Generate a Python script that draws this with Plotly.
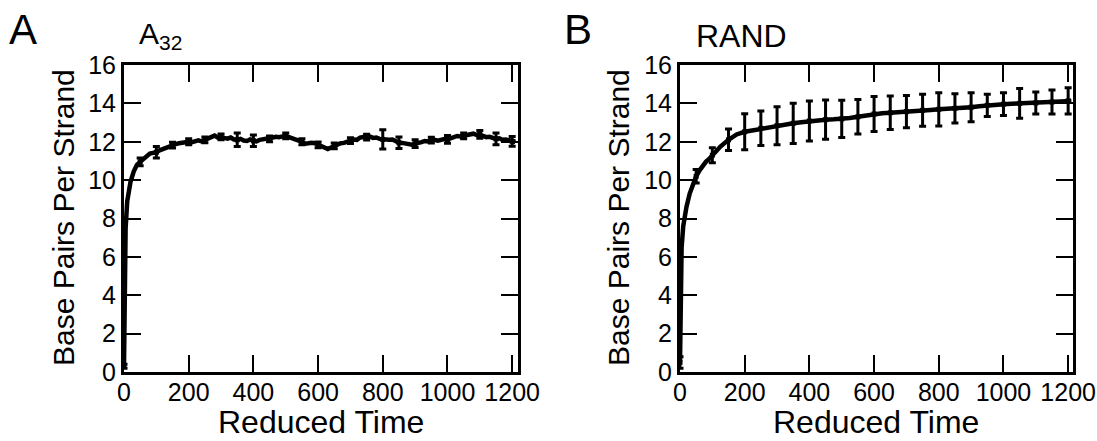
import plotly.graph_objects as go

# ---------------- data ----------------
A_time = [0, 2, 5, 10, 15, 20, 30, 40, 50, 60, 70, 80, 90, 100,
          110, 120, 130, 140, 150, 160, 170, 180, 190, 200,
          210, 220, 230, 240, 250, 260, 270, 280, 290, 300,
          310, 320, 330, 340, 350, 360, 370, 380, 390, 400,
          410, 420, 430, 440, 450, 460, 470, 480, 490, 500,
          510, 520, 530, 540, 550, 560, 570, 580, 590, 600,
          610, 620, 630, 640, 650, 660, 670, 680, 690, 700,
          710, 720, 730, 740, 750, 760, 770, 780, 790, 800,
          810, 820, 830, 840, 850, 860, 870, 880, 890, 900,
          910, 920, 930, 940, 950, 960, 970, 980, 990, 1000,
          1010, 1020, 1030, 1040, 1050, 1060, 1070, 1080, 1090, 1100,
          1110, 1120, 1130, 1140, 1150, 1160, 1170, 1180, 1190, 1200, 1210]
A_bp = [0.3, 5.0, 7.5, 8.9, 9.5, 9.9, 10.45, 10.8, 10.95, 11.1, 11.25, 11.38, 11.42, 11.45,
        11.55, 11.62, 11.72, 11.8, 11.83, 11.88, 11.92, 11.95, 12.0, 12.0,
        11.98, 12.04, 12.07, 12.02, 12.1, 12.15, 12.28, 12.32, 12.22, 12.25,
        12.2, 12.16, 12.22, 12.12, 12.1, 12.15, 12.06, 12.04, 12.12, 12.05,
        12.02, 12.1, 12.12, 12.18, 12.15, 12.22, 12.26, 12.24, 12.28, 12.3,
        12.24, 12.2, 12.14, 12.06, 12.0, 11.9, 11.92, 11.95, 11.92, 11.84,
        11.76, 11.7, 11.62, 11.7, 11.78, 11.86, 11.92, 11.94, 12.0, 12.06,
        12.12, 12.1, 12.22, 12.25, 12.24, 12.27, 12.2, 12.22, 12.15, 12.12,
        12.14, 12.1, 12.12, 12.04, 11.95, 11.94, 11.9, 11.88, 11.85, 11.9,
        11.92, 11.98, 12.04, 12.02, 12.08, 12.1, 12.06, 12.12, 12.14, 12.12,
        12.18, 12.24, 12.3, 12.28, 12.3, 12.34, 12.38, 12.42, 12.36, 12.38,
        12.3, 12.24, 12.26, 12.2, 12.15, 12.18, 12.1, 12.12, 12.06, 12.02, 12.0]

A_bar_time = [0, 50, 100, 150, 200, 250, 300, 350, 400, 450, 500, 550, 600,
              650, 700, 750, 800, 850, 900, 950, 1000, 1050, 1100, 1150, 1200]
A_bar_err = [0.1, 0.2, 0.3, 0.15, 0.15, 0.15, 0.15, 0.35, 0.3, 0.15, 0.15, 0.15, 0.15,
             0.15, 0.15, 0.15, 0.5, 0.3, 0.2, 0.15, 0.2, 0.15, 0.2, 0.3, 0.25]

B_time = [0, 2, 5, 10, 15, 20, 30, 40, 50, 60, 70, 80, 90, 100,
          125, 150, 175, 200, 225, 250, 275, 300, 325, 350, 375, 400,
          425, 450, 475, 500, 525, 550, 575, 600, 625, 650, 675, 700,
          725, 750, 775, 800, 825, 850, 875, 900, 925, 950, 975, 1000,
          1025, 1050, 1075, 1100, 1125, 1150, 1175, 1200, 1210]
B_bp = [0.5, 4.5, 6.5, 7.6, 8.2, 8.6, 9.3, 9.8, 10.2, 10.5, 10.75, 10.95, 11.1, 11.3,
        11.75, 12.1, 12.38, 12.52, 12.6, 12.7, 12.76, 12.84, 12.9, 12.96, 13.02, 13.08,
        13.12, 13.15, 13.17, 13.19, 13.24, 13.3, 13.38, 13.45, 13.49, 13.51, 13.55, 13.57,
        13.6, 13.64, 13.66, 13.69, 13.71, 13.74, 13.77, 13.8, 13.85, 13.9, 13.93, 13.96,
        13.98, 14.0, 14.01, 14.02, 14.05, 14.07, 14.1, 14.13, 14.12]

B_bar_time = [0, 50, 100, 150, 200, 250, 300, 350, 400, 450, 500, 550, 600,
              650, 700, 750, 800, 850, 900, 950, 1000, 1050, 1100, 1150, 1200]
B_bar_err = [0.3, 0.35, 0.39, 0.56, 0.94, 0.9, 0.99, 1.05, 1.04, 1.02, 0.97, 0.9, 0.91,
             0.87, 0.84, 0.83, 0.87, 0.76, 0.76, 0.58, 0.59, 0.77, 0.57, 0.63, 0.69]

x_ticks = [0, 200, 400, 600, 800, 1000, 1200]
y_ticks = [0, 2, 4, 6, 8, 10, 12, 14, 16]

A_bar_bp = [A_bp[A_time.index(t)] for t in A_bar_time]
B_bar_bp = [B_bp[B_time.index(t)] for t in B_bar_time]

# ---------------- figure ----------------
W, H = 1097, 441
FONT = "Liberation Sans, Arial, Helvetica, sans-serif"

fig = go.Figure()

def add_panel(t, v, bt, bv, be, xa, ya):
    fig.add_trace(go.Scatter(x=t, y=v, mode="lines", xaxis=xa, yaxis=ya,
                             line=dict(color="black", width=4.5),
                             showlegend=False, hoverinfo="skip"))
    fig.add_trace(go.Scatter(x=bt, y=bv, mode="markers", xaxis=xa, yaxis=ya,
                             marker=dict(symbol="square", size=5, color="black"),
                             error_y=dict(type="data", array=be, visible=True,
                                          color="black", thickness=3, width=3.5),
                             showlegend=False, hoverinfo="skip"))

add_panel(A_time, A_bp, A_bar_time, A_bar_bp, A_bar_err, "x", "y")
add_panel(B_time, B_bp, B_bar_time, B_bar_bp, B_bar_err, "x2", "y2")

def px_x(p):
    return p / W

def px_y(p):
    return 1 - p / H

ydom = [px_y(372), px_y(65)]
axis_common = dict(showgrid=False, zeroline=False, showline=True, linewidth=3,
                   linecolor="black", mirror="ticks", ticks="inside", ticklen=17,
                   tickwidth=2, tickcolor="black", automargin=False,
                   tickfont=dict(family=FONT, size=25, color="black"))

fig.update_layout(
    template="none",
    width=W, height=H,
    margin=dict(l=0, r=0, t=0, b=0, pad=0),
    paper_bgcolor="white", plot_bgcolor="white",
    showlegend=False,
    xaxis=dict(domain=[px_x(124), px_x(518)], range=[0, 1218], anchor="y",
               tickvals=x_ticks, ticklabelstandoff=-4, **axis_common),
    yaxis=dict(domain=ydom, range=[0, 16], anchor="x", tickvals=y_ticks, **axis_common),
    xaxis2=dict(domain=[px_x(680), px_x(1073)], range=[0, 1215], anchor="y2",
                tickvals=x_ticks, ticklabelstandoff=-4, **axis_common),
    yaxis2=dict(domain=ydom, range=[0, 16], anchor="x2", tickvals=y_ticks, **axis_common),
)

def ann(text, x, y, size, xanchor="center", yanchor="middle", angle=0):
    fig.add_annotation(text=text, x=px_x(x), y=px_y(y), xref="paper", yref="paper",
                       xanchor=xanchor, yanchor=yanchor, textangle=angle,
                       showarrow=False, borderpad=0,
                       font=dict(family=FONT, size=size, color="black"))

# panel letters and titles
ann("A", 8, 29, 42, xanchor="left")
ann("B", 563, 29, 42, xanchor="left")
ann("A<sub>32</sub>", 138, 36, 30, xanchor="left")
ann("RAND", 695, 36, 32, xanchor="left")

# axis titles
ann("Reduced Time", 321, 441, 32, yanchor="bottom")
ann("Reduced Time", 876, 441, 32, yanchor="bottom")
ann("Base Pairs Per Strand", 64, 218, 30, angle=-90)
ann("Base Pairs Per Strand", 619, 218, 30, angle=-90)

fig.write_html("out.html")
